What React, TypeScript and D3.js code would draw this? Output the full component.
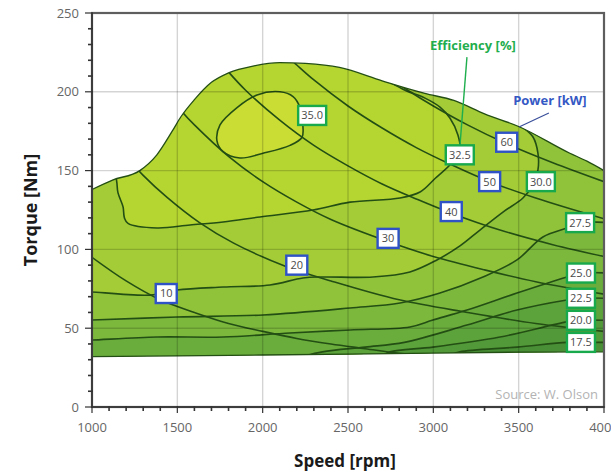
import React, { useEffect, useRef } from 'react';
import * as d3 from 'd3';

type Pt = [number, number];

const speedTicks = [1000, 1500, 2000, 2500, 3000, 3500, 4000];
const torqueTicks = [0, 50, 100, 150, 200, 250];

// operating envelope, [rpm, Nm]
const envelopeTop: Pt[] = [[1000, 138], [1120, 144], [1280, 150], [1380, 160], [1470, 175], [1520, 184], [1600, 195], [1700, 206], [1800, 212], [1950, 216.5], [2100, 218.5], [2250, 218], [2450, 215.5], [2700, 207], [2850, 202], [2950, 199], [3120, 194.5], [3300, 186], [3500, 178], [3800, 161], [3900, 156], [4000, 150]];
const envelopeBottom: Pt[] = [[1000, 32], [1500, 32.5], [2000, 33], [2500, 33.5], [3000, 34.2], [3500, 34.8], [4000, 35]];

// efficiency contours
const eff35: Pt[] = [[2101, 200], [2178, 197], [2219, 190], [2236, 178], [2230, 171], [2160, 166], [2002, 161], [1867, 158], [1768, 162], [1732, 169], [1750, 179], [1850, 190], [1967, 198]];
const eff325: Pt[] = [[1140, 147], [1146, 142], [1152, 136], [1182, 127], [1190, 120], [1211, 116.5], [1381, 113.6], [1574, 115.5], [1768, 117.4], [1984, 120.6], [2295, 125], [2512, 130], [2805, 132.6], [2922, 136.4], [3010, 145], [3109, 155], [3156, 163], [3144, 172.6], [3097, 183.4], [3039, 190.3], [2951, 196], [2834, 201], [2650, 212]];
const eff30: Pt[] = [[980, 73], [1000, 73], [1340, 71], [1498, 74.2], [1768, 76.1], [2043, 77.4], [2236, 81.9], [2353, 82.5], [2646, 82.5], [2863, 85.7], [3021, 93.3], [3156, 102.2], [3273, 112.3], [3408, 123.7], [3525, 132.6], [3584, 141], [3613, 150.4], [3613, 161], [3584, 171.3], [3508, 179], [3450, 185]];
const eff275: Pt[] = [[980, 55.2], [1000, 55.2], [1498, 57.1], [2002, 58.4], [2512, 62.8], [2805, 66], [3039, 72.3], [3291, 82.5], [3490, 93.3], [3642, 107.9], [3783, 113.6], [3860, 117], [4020, 117]];
const eff25: Pt[] = [[980, 42.5], [1000, 42.5], [1381, 44.4], [1768, 44.4], [2160, 47], [2512, 48.9], [2863, 50.8], [2998, 55.2], [3197, 61.5], [3490, 72.3], [3783, 82.5], [3865, 85], [4020, 85]];
const eff225: Pt[] = [[2200, 31], [2350, 35], [2600, 38], [2830, 41], [3197, 52], [3490, 61.5], [3783, 67.9], [3865, 69], [4020, 69]];
const eff20: Pt[] = [[2700, 32], [2746, 35], [2998, 38], [3390, 44.4], [3783, 54], [3865, 55], [4020, 55]];
const eff175: Pt[] = [[3100, 33], [3156, 35], [3490, 38], [3783, 41], [3865, 41], [4020, 41]];

// constant power lines
const p10: Pt[] = [[1000, 95], [1200, 80], [1400, 68], [1600, 60], [1800, 53], [2000, 48], [2200, 43.5], [2400, 40], [2600, 37], [2800, 34], [3000, 32]];
const p20: Pt[] = [[1200, 159], [1300, 147], [1440, 133], [1630, 117], [1830, 104], [2140, 89], [2400, 80], [2800, 68], [3200, 60], [3600, 53], [4000, 48]];
const p30: Pt[] = [[1450, 198], [1530, 187], [1600, 179], [1800, 159], [2000, 143], [2200, 130], [2400, 119], [2735, 105], [3000, 95.5], [3300, 87], [3600, 79.5], [4000, 71.6]];
const p40: Pt[] = [[1700, 225], [1780, 215], [1900, 201], [2100, 182], [2300, 166], [2500, 153], [2700, 141.5], [2900, 132], [3105, 123], [3400, 112], [3700, 103], [4000, 95.5]];
const p50: Pt[] = [[2100, 227], [2200, 217], [2300, 207.5], [2500, 191], [2700, 177], [2900, 164.6], [3100, 154], [3330, 143], [3600, 132.6], [4000, 119.4]];
const p60: Pt[] = [[2700, 212], [2850, 201], [3000, 191], [3200, 179], [3430, 167], [3700, 155], [4000, 143]];

const effLabels = ['35.0', '32.5', '30.0', '27.5', '25.0', '22.5', '20.0', '17.5'];
const effLabelAt: Pt[] = [[2290, 185], [3155, 160], [3630, 143], [3860, 117], [3865, 85], [3865, 69], [3865, 55], [3865, 41]];
const powerLabels = ['10', '20', '30', '40', '50', '60'];
const powerLabelAt: Pt[] = [[1435, 72], [2200, 90], [2735, 107], [3105, 124], [3330, 143], [3430, 168]];

function App() {
  const svgRef = useRef<SVGSVGElement>(null);

  useEffect(() => {
    const svg = d3.select(svgRef.current);
    svg.selectAll('*').remove();

    const x = d3.scaleLinear().domain([1000, 4000]).range([92, 604]);
    const y = d3.scaleLinear().domain([0, 250]).range([407, 13]);
    const font = '"Open Sans", sans-serif';
    const lineCol = '#244f14';

    const smooth = d3.line<Pt>().x(d => x(d[0])).y(d => y(d[1])).curve(d3.curveCatmullRom.alpha(0.5));
    const straight = d3.line<Pt>().x(d => x(d[0])).y(d => y(d[1]));
    const topLine = d3.line<Pt>().x(d => x(d[0])).y(d => y(d[1])).curve(d3.curveMonotoneX);
    const loopLine = d3.line<Pt>().x(d => x(d[0])).y(d => y(d[1])).curve(d3.curveCatmullRomClosed.alpha(0.5));

    const region = topLine(envelopeTop) + straight([...envelopeBottom].reverse())!.replace('M', 'L') + 'Z';

    // closes a contour around its lower-efficiency side
    const closeBelow = (pts: Pt[]): Pt[] => {
      const [x0, y0] = pts[0];
      const [x1, y1] = pts[pts.length - 1];
      const tail: Pt[] = x1 >= 4000 ? [[4200, y1]] : [[x1, 300], [4200, 300]];
      const head: Pt[] = y0 > 40 ? [[900, -20], [900, y0]] : [[x0, -20]];
      return [...tail, [4200, -20], ...head];
    };

    svg.append('defs').append('clipPath').attr('id', 'envelope')
      .append('path').attr('d', region);

    const fills = svg.append('g').attr('clip-path', 'url(#envelope)');
    fills.append('path').attr('d', region).attr('fill', '#b5d531');
    fills.append('path').attr('d', loopLine(eff35)).attr('fill', '#cadd34');

    const contours = [eff325, eff30, eff275, eff25, eff225, eff20, eff175];
    const bandCols = ['#a3cc36', '#90c33a', '#7cb83c', '#6aad3c', '#5da33b', '#529939', '#488f36'];
    contours.forEach((c, i) => {
      const d = smooth(c) + straight(closeBelow(c))!.replace('M', 'L') + 'Z';
      fills.append('path').attr('d', d).attr('fill', bandCols[i]);
    });

    const lines = svg.append('g').attr('clip-path', 'url(#envelope)')
      .attr('fill', 'none').attr('stroke', lineCol).attr('stroke-width', 1.6);
    contours.forEach(c => lines.append('path').attr('d', smooth(c)));
    lines.append('path').attr('d', loopLine(eff35));
    [p10, p20, p30, p40, p50, p60].forEach(p => lines.append('path').attr('d', smooth(p)));

    svg.append('path').attr('d', region).attr('fill', 'none')
      .attr('stroke', lineCol).attr('stroke-width', 1.3);

    // grid
    const grid = svg.append('g').attr('stroke', '#000').attr('stroke-opacity', 0.17).attr('stroke-width', 1.4);
    speedTicks.slice(1, -1).forEach(t => {
      grid.append('line').attr('x1', x(t)).attr('x2', x(t)).attr('y1', y(0)).attr('y2', y(250));
    });
    torqueTicks.slice(1, -1).forEach(t => {
      grid.append('line').attr('x1', x(1000)).attr('x2', x(4000)).attr('y1', y(t)).attr('y2', y(t));
    });

    // frame and axes
    svg.append('rect').attr('x', x(1000)).attr('y', y(250))
      .attr('width', x(4000) - x(1000)).attr('height', y(0) - y(250))
      .attr('fill', 'none').attr('stroke', '#5e5e5e').attr('stroke-width', 2.2);
    const ax = svg.append('g').attr('stroke', '#333').attr('stroke-width', 1.5);
    ax.append('line').attr('x1', x(1000)).attr('x2', x(1000)).attr('y1', y(0) + 1).attr('y2', y(250));
    ax.append('line').attr('x1', x(1000)).attr('x2', x(4000)).attr('y1', y(0)).attr('y2', y(0));

    d3.range(0, 251, 10).forEach(t => {
      const major = t % 50 === 0;
      ax.append('line').attr('x1', x(1000) - (major ? 7 : 4)).attr('x2', x(1000) + 1)
        .attr('y1', y(t)).attr('y2', y(t)).attr('stroke-width', major ? 1.2 : 1.6);
    });
    d3.range(1000, 4001, 100).forEach(t => {
      const major = t % 500 === 0;
      ax.append('line').attr('x1', x(t)).attr('x2', x(t))
        .attr('y1', y(0) - 1).attr('y2', y(0) + (major ? 6 : 4)).attr('stroke-width', major ? 1.2 : 1.6);
    });

    svg.append('g').selectAll('text').data(torqueTicks).enter().append('text')
      .attr('x', 79).attr('y', d => y(d)).attr('dy', '0.35em')
      .attr('text-anchor', 'end').attr('font-family', font).attr('font-size', 13)
      .attr('fill', '#666').text(d => d);
    svg.append('g').selectAll('text').data(speedTicks).enter().append('text')
      .attr('x', d => x(d)).attr('y', 432)
      .attr('text-anchor', 'middle').attr('font-family', font).attr('font-size', 13)
      .attr('fill', '#666').text(d => d);

    svg.append('text').attr('x', 345).attr('y', 467).attr('text-anchor', 'middle')
      .attr('font-family', font).attr('font-size', 17).attr('font-weight', 'bold')
      .attr('fill', '#1a1a1a').text('Speed [rpm]');
    svg.append('text').attr('transform', 'translate(37,210) rotate(-90)').attr('text-anchor', 'middle')
      .attr('font-family', font).attr('font-size', 18).attr('font-weight', 'bold')
      .attr('fill', '#1a1a1a').text('Torque [Nm]');

    svg.append('text').attr('x', 598).attr('y', 399).attr('text-anchor', 'end')
      .attr('font-family', font).attr('font-size', 13).attr('fill', '#b3b3b3')
      .text('Source: W. Olson');

    // annotations
    svg.append('line').attr('x1', x(3197)).attr('y1', y(222)).attr('x2', x(3156)).attr('y2', y(166))
      .attr('stroke', '#1fae4e').attr('stroke-width', 1.4);
    svg.append('text').attr('x', x(3232)).attr('y', y(229.7)).attr('dy', '0.35em').attr('text-anchor', 'middle')
      .attr('font-family', font).attr('font-size', 13).attr('font-weight', 'bold')
      .attr('fill', '#1fae4e').text('Efficiency [%]');
    svg.append('line').attr('x1', x(3677)).attr('y1', y(186.5)).attr('x2', x(3502)).attr('y2', y(177.7))
      .attr('stroke', '#3a4f9a').attr('stroke-width', 1.2);
    svg.append('text').attr('x', x(3683)).attr('y', y(194.8)).attr('dy', '0.35em').attr('text-anchor', 'middle')
      .attr('font-family', font).attr('font-size', 13).attr('font-weight', 'bold')
      .attr('fill', '#3558c4').text('Power [kW]');

    const box = (label: string, at: Pt, w: number, col: string) => {
      const g = svg.append('g').attr('transform', `translate(${x(at[0])},${y(at[1])})`);
      g.append('rect').attr('x', -w / 2).attr('y', -9.5).attr('width', w).attr('height', 19)
        .attr('fill', '#fff').attr('stroke', col).attr('stroke-width', 2.4);
      g.append('text').attr('dy', '0.36em').attr('text-anchor', 'middle')
        .attr('font-family', font).attr('font-size', 11).attr('fill', '#4a4a4a').text(label);
    };
    effLabels.forEach((l, i) => box(l, effLabelAt[i], 28, '#17a94b'));
    powerLabels.forEach((l, i) => box(l, powerLabelAt[i], 21, '#2f53c6'));
  }, []);

  return (
    <div style={{ position: 'absolute', left: 0, top: 0 }}>
      <svg ref={svgRef} width={611} height={473} style={{ display: 'block', background: '#fff' }} />
    </div>
  );
}

export default App;
